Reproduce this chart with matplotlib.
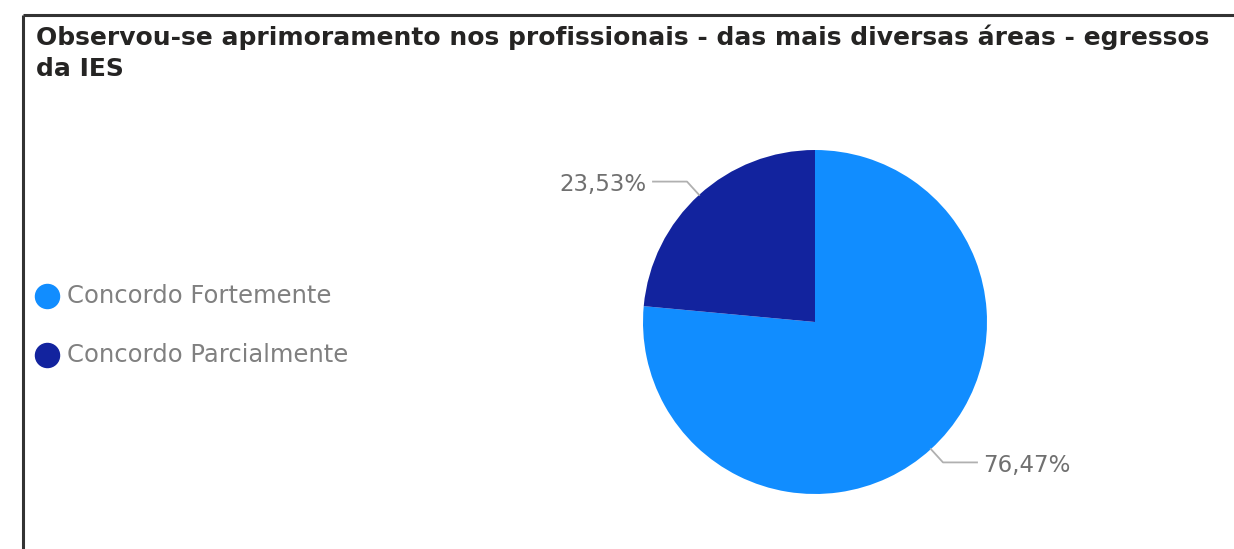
import matplotlib
matplotlib.use("Agg")
import matplotlib.pyplot as plt
import numpy as np

title = "Observou-se aprimoramento nos profissionais - das mais diversas áreas - egressos\nda IES"
categories = ["Concordo Fortemente", "Concordo Parcialmente"]
values = [76.47, 23.53]
labels = ["76,47%", "23,53%"]
colors = ["#118DFF", "#12239E"]

W, H = 1234, 549
fig = plt.figure(figsize=(W / 100, H / 100), dpi=100)
ax = fig.add_axes([0, 0, 1, 1])

def Y(y):
    return H - y

# pie
cx, cy, r = 815, Y(322), 172
wedges, _ = ax.pie(values, colors=colors, startangle=90, counterclock=False,
                   center=(cx, cy), radius=r, frame=True,
                   wedgeprops=dict(linewidth=0))
ax.set_xlim(0, W)
ax.set_ylim(0, H)
ax.set_aspect("equal")
ax.axis("off")

# border
ax.plot([23, W], [Y(15), Y(15)], color="#333333", lw=2.2, solid_capstyle="butt")
ax.plot([23, 23], [Y(15), 0], color="#333333", lw=2.2, solid_capstyle="butt")

# title
ax.text(36, Y(24), title, ha="left", va="top", fontsize=18, fontweight="bold",
        color="#252423", linespacing=1.42, family="DejaVu Sans")

# leader lines + labels
for w, lab in zip(wedges, labels):
    ang = np.deg2rad((w.theta1 + w.theta2) / 2)
    ca, sa = np.cos(ang), np.sin(ang)
    p0 = (cx + r * ca, cy + r * sa)
    p1 = (cx + (r + 18) * ca, cy + (r + 18) * sa)
    side = 1 if ca >= 0 else -1
    p2 = (p1[0] + side * 34, p1[1])
    ax.plot([p0[0], p1[0], p2[0]], [p0[1], p1[1], p2[1]], color="#b0b0b0", lw=1.3)
    ax.text(p2[0] + side * 6, p2[1] - 3, lab, ha="left" if side > 0 else "right",
            va="center", fontsize=16.5, color="#707070")

# legend
for i, (cat, col) in enumerate(zip(categories, colors)):
    yy = Y(296 + i * 59)
    ax.scatter([47], [yy], s=300, color=col, zorder=3)
    ax.text(67, yy, cat, ha="left", va="center", fontsize=17.5, color="#808080")

fig.savefig("out.png", dpi=100)
